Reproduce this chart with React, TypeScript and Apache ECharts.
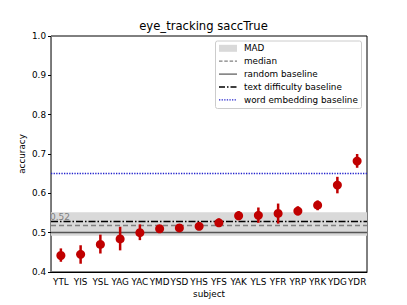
import React, { useEffect, useRef } from "react";
import * as echarts from "echarts";

const subjects = ["YTL", "YIS", "YSL", "YAG", "YAC", "YMD", "YSD", "YHS", "YFS", "YAK", "YLS", "YFR", "YRP", "YRK", "YDG", "YDR"];
const accuracy = [0.442, 0.445, 0.470, 0.484, 0.500, 0.510, 0.512, 0.516, 0.525, 0.543, 0.544, 0.549, 0.555, 0.570, 0.621, 0.682];
const errLow = [0.426, 0.421, 0.447, 0.455, 0.481, 0.506, 0.506, 0.511, 0.519, 0.532, 0.525, 0.523, 0.544, 0.557, 0.600, 0.665];
const errHigh = [0.460, 0.468, 0.495, 0.515, 0.521, 0.514, 0.518, 0.521, 0.536, 0.555, 0.564, 0.574, 0.567, 0.582, 0.642, 0.700];
const yTicks = [0.4, 0.5, 0.6, 0.7, 0.8, 0.9, 1.0];

const medianValue = 0.521;
const madLow = 0.492;
const madHigh = 0.552;
const randomBaseline = 0.5;
const textDifficultyBaseline = 0.532;
const wordEmbeddingBaseline = 0.653;

const legendLabels = ["MAD", "median", "random baseline", "text difficulty baseline", "word embedding baseline"];

const FONT = "DejaVu Sans";
const RED = "#c00000";

export default function App() {
  const ref = useRef<HTMLDivElement>(null);
  useEffect(() => {
    if (!ref.current) return;
    const chart = echarts.init(ref.current, null, { renderer: "svg" });
    const errData = subjects.map((_, i) => [i, errLow[i], errHigh[i]]);
    const lx0 = 219, lx1 = 237, ltx = 244, ly0 = 48.3, ldy = 12.9;
    const legendGraphics: any[] = [
      {
        type: "rect",
        shape: { x: 215.5, y: 41, width: 146, height: 67.5, r: 2 },
        style: { fill: "rgba(255,255,255,0.85)", stroke: "#cccccc", lineWidth: 1 },
        z: 100,
      },
      { type: "rect", shape: { x: lx0, y: ly0 - 3.5, width: lx1 - lx0, height: 7 }, style: { fill: "#d9d9d9" }, z: 101 },
      { type: "line", shape: { x1: lx0, y1: ly0 + ldy, x2: lx1, y2: ly0 + ldy }, style: { stroke: "#808080", lineWidth: 1.2, lineDash: [3.5, 1.8] }, z: 101 },
      { type: "line", shape: { x1: lx0, y1: ly0 + 2 * ldy, x2: lx1, y2: ly0 + 2 * ldy }, style: { stroke: "#555555", lineWidth: 1.2 }, z: 101 },
      { type: "line", shape: { x1: lx0, y1: ly0 + 3 * ldy, x2: lx1, y2: ly0 + 3 * ldy }, style: { stroke: "#000000", lineWidth: 1.4, lineDash: [6, 2, 1.5, 2] }, z: 101 },
      { type: "line", shape: { x1: lx0, y1: ly0 + 4 * ldy, x2: lx1, y2: ly0 + 4 * ldy }, style: { stroke: "#2222cc", lineWidth: 1.3, lineDash: [1.3, 1.3] }, z: 101 },
      ...legendLabels.map((t, i) => ({
        type: "text",
        x: ltx,
        y: ly0 + i * ldy,
        style: { text: t, fontSize: 8.8, fontFamily: FONT, fill: "#000", verticalAlign: "middle", align: "left" },
        z: 102,
      })),
      {
        type: "text",
        left: "center",
        top: 20,
        style: { text: "eye_tracking saccTrue", fontSize: 11.6, fontFamily: FONT, fill: "#000" },
      },
    ];

    chart.setOption({
      animation: false,
      grid: { left: 51, right: 40, top: 36, bottom: 33, show: true, borderColor: "#000", borderWidth: 1 },
      xAxis: {
        type: "category",
        data: subjects,
        boundaryGap: true,
        name: "subject",
        nameLocation: "middle",
        nameGap: 17,
        nameMoveOverlap: false,
        nameTextStyle: { fontSize: 8.8, fontFamily: FONT, color: "#000" },
        axisLine: { lineStyle: { color: "#000", width: 1 } },
        axisTick: { alignWithLabel: true, length: 3, lineStyle: { color: "#000" } },
        axisLabel: { fontSize: 8.8, fontFamily: FONT, color: "#000", margin: 5, interval: 0 },
        splitLine: { show: false },
      },
      yAxis: {
        type: "value",
        min: 0.4,
        max: 1.0,
        interval: 0.1,
        name: "accuracy",
        nameLocation: "middle",
        nameGap: 25,
        nameMoveOverlap: false,
        nameTextStyle: { fontSize: 8.8, fontFamily: FONT, color: "#000" },
        axisLine: { show: true, lineStyle: { color: "#777", width: 1 } },
        axisTick: { show: true, length: 3, lineStyle: { color: "#000" } },
        axisLabel: {
          fontSize: 8.8,
          fontFamily: FONT,
          color: "#000",
          margin: 5,
          formatter: (v: number) => (yTicks.some((t) => Math.abs(t - v) < 1e-6) ? v.toFixed(1) : ""),
        },
        splitLine: { show: false },
      },
      series: [
        {
          type: "line",
          data: [],
          silent: true,
          markArea: {
            silent: true,
            itemStyle: { color: "#d9d9d9", opacity: 1 },
            data: [[{ yAxis: madLow }, { yAxis: madHigh }]],
          },
          markLine: {
            silent: true,
            symbol: "none",
            data: [
              {
                yAxis: medianValue,
                lineStyle: { color: "#808080", type: [5, 3], width: 1.3 },
                label: {
                  show: true,
                  position: "insideStartTop",
                  formatter: "0.52",
                  color: "#808080",
                  fontSize: 9,
                  fontFamily: FONT,
                  distance: [-1, 3],
                },
              },
              { yAxis: randomBaseline, lineStyle: { color: "#555555", type: "solid", width: 1.3 }, label: { show: false } },
              { yAxis: textDifficultyBaseline, lineStyle: { color: "#000000", type: [7, 2, 1.5, 2], width: 1.4 }, label: { show: false } },
              { yAxis: wordEmbeddingBaseline, lineStyle: { color: "#2222cc", type: [1.3, 1.3], width: 1.3 }, label: { show: false } },
            ],
          },
        },
        {
          type: "custom",
          data: errData,
          z: 5,
          renderItem: (params: any, api: any) => {
            const x = api.value(0);
            const p1 = api.coord([x, api.value(1)]);
            const p2 = api.coord([x, api.value(2)]);
            return {
              type: "line",
              shape: { x1: p1[0], y1: p1[1], x2: p2[0], y2: p2[1] },
              style: { stroke: RED, lineWidth: 2.5 },
            };
          },
        },
        {
          type: "scatter",
          data: accuracy.map((v, i) => [i, v]),
          symbol: "circle",
          symbolSize: 9,
          z: 6,
          itemStyle: { color: RED, opacity: 1 },
        },
      ],
      graphic: legendGraphics,
    });
    return () => chart.dispose();
  }, []);
  return <div ref={ref} style={{ width: 407, height: 305, position: "absolute", left: 0, top: 0 }} />;
}
